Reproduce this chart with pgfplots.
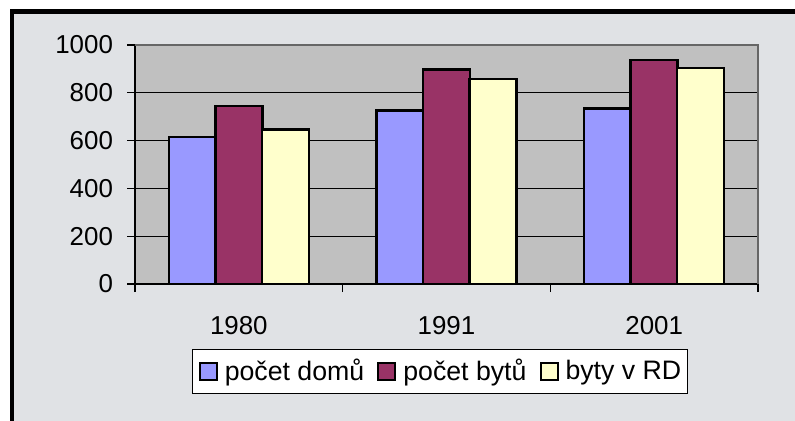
\documentclass[border=0pt]{standalone}
\usepackage{fontspec}
\setmainfont{Liberation Sans}
\usepackage{pgfplots}
\pgfplotsset{compat=1.18}
\definecolor{marble}{RGB}{224,226,229}
\definecolor{plotgray}{RGB}{192,192,192}
\definecolor{cA}{RGB}{153,153,255}
\definecolor{cB}{RGB}{153,51,102}
\definecolor{cC}{RGB}{255,255,204}
\begin{document}
\begin{tikzpicture}
\path[use as bounding box] (0,0) rectangle (397.5bp,210.5bp);
\fill[marble] (6bp,0) rectangle (397.5bp,204.75bp);
\draw[black,line width=2.25bp] (6bp,0) -- (6bp,204.75bp) -- (397.5bp,204.75bp);
\begin{axis}[
  at={(67.5bp,68.5bp)}, anchor=south west,
  scale only axis, width=311.5bp, height=119.5bp,
  xmin=-0.5, xmax=2.5, ymin=0, ymax=1000,
  axis background/.style={fill=plotgray},
  axis x line*=bottom, axis y line*=left,
  axis line style={-, black, line width=0.8bp},
  ytick={0,200,400,600,800,1000},
  ymajorgrids, grid style={black, line width=0.5bp},
  tick align=outside, major tick length=4bp,
  tick style={black, line width=0.6bp},
  xtick={-0.5,0.5,1.5,2.5}, xticklabels={},
  extra x ticks={0,1,2}, extra x tick labels={1980,1991,2001},
  extra x tick style={major tick length=0pt, grid=none},
  /pgf/number format/assume math mode=true,
  /pgf/number format/1000 sep={},
  tick label style={font=\fontsize{13}{15}\selectfont},
  xticklabel style={yshift=-12.5bp},
  yticklabel style={xshift=-3.5bp},
  legend columns=-1,
  legend image code/.code={\draw[#1, line width=1bp] (0bp,-4.25bp) rectangle (8.5bp,4.25bp);},
  legend style={at={(0.4896,-0.3667)}, anchor=center, draw=black, line width=0.6bp, fill=white,
    font=\fontsize{13.4}{15}\selectfont, inner xsep=3bp, inner ysep=3bp,
    nodes={inner xsep=0pt},
    /tikz/every odd column/.append style={column sep=3.5bp},
    /tikz/every even column/.append style={column sep=6.5bp}},
]
\addplot[ybar, bar width=23.5bp, bar shift=-23.25bp, fill=cA, draw=black, line width=1.2bp] coordinates {(0,614) (1,726) (2,734)};
\addplot[ybar, bar width=23.5bp, bar shift=0bp, fill=cB, draw=black, line width=1.2bp] coordinates {(0,745) (1,898) (2,937)};
\addplot[ybar, bar width=23.5bp, bar shift=23.25bp, fill=cC, draw=black, line width=1.2bp] coordinates {(0,646) (1,857) (2,903)};
\legend{počet domů, počet bytů, byty v RD}
\end{axis}
\draw[gray!80!black, line width=0.8bp] (67.5bp,188bp) -- (379bp,188bp) -- (379bp,68.5bp);
\end{tikzpicture}
\end{document}
